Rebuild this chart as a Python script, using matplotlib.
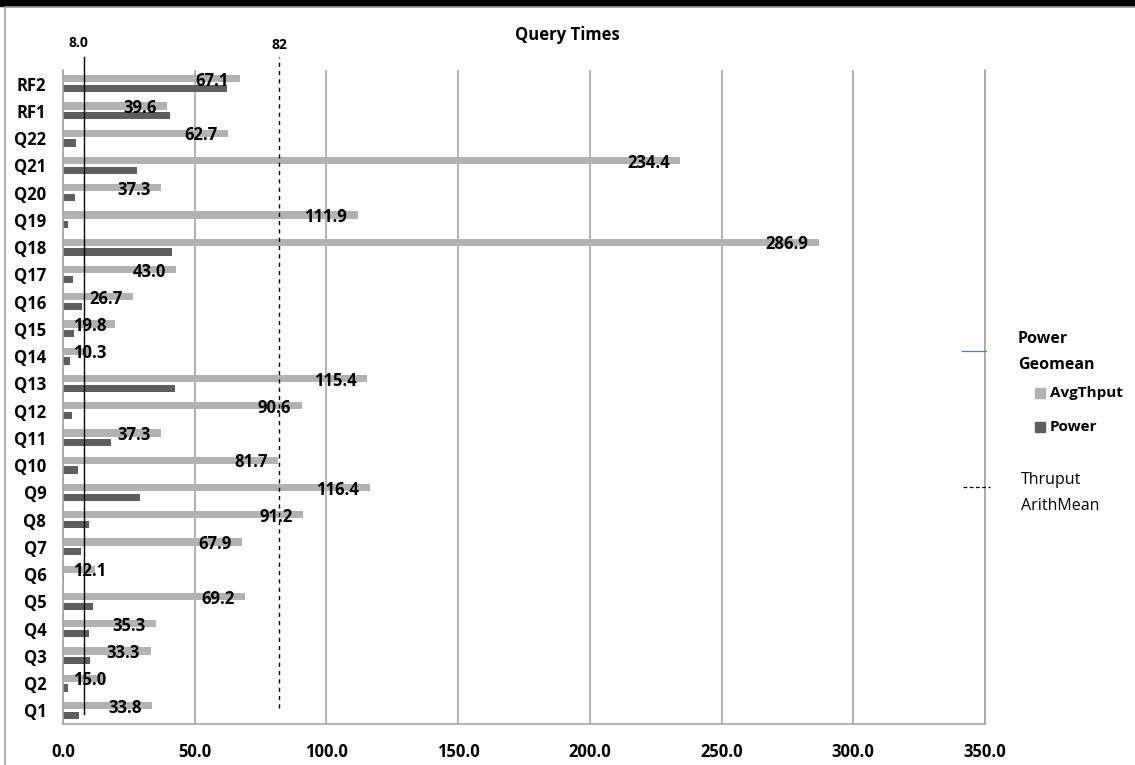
import numpy as np
import matplotlib.pyplot as plt
from matplotlib.patches import Rectangle
from matplotlib.lines import Line2D

plt.rcParams['font.family'] = ['Open Sans', 'DejaVu Sans']

# query labels, bottom to top
queries = ['Q1', 'Q2', 'Q3', 'Q4', 'Q5', 'Q6', 'Q7', 'Q8', 'Q9', 'Q10', 'Q11', 'Q12',
           'Q13', 'Q14', 'Q15', 'Q16', 'Q17', 'Q18', 'Q19', 'Q20', 'Q21', 'Q22', 'RF1', 'RF2']
avg_thput = [33.8, 15.0, 33.3, 35.3, 69.2, 12.1, 67.9, 91.2, 116.4, 81.7, 37.3, 90.6,
             115.4, 10.3, 19.8, 26.7, 43.0, 286.9, 111.9, 37.3, 234.4, 62.7, 39.6, 67.1]
power = [6.0, 1.8, 10.2, 9.8, 11.4, 0.5, 6.9, 9.8, 29.2, 5.6, 18.1, 3.5,
         42.5, 2.7, 4.3, 7.3, 3.8, 41.3, 1.9, 4.7, 28.0, 5.1, 40.8, 62.1]
power_geomean = 8.0
thruput_arithmean = 82
xticks = [0, 50, 100, 150, 200, 250, 300, 350]

light = '#b2b2b2'
dark = '#5e5e5e'
grid_c = '#a6a6a6'

W, H = 1135, 765
fig = plt.figure(figsize=(W / 100, H / 100), dpi=100)

def fx(px):
    return px / W

def fy(py):
    return 1 - py / H

ax = fig.add_axes([fx(63), fy(724), fx(985) - fx(63), fy(70) - fy(724)])

y = np.arange(len(queries))
h = 0.27
ax.barh(y + 0.18, avg_thput, height=h, color=light, zorder=2)
ax.barh(y - 0.18, power, height=h, color=dark, zorder=2)

# value labels near the end of the light bars
for yi, v in zip(y, avg_thput):
    ax.text(max(v - 4, 16.5), yi + 0.1, f'{v:.1f}', ha='right', va='center',
            fontsize=12, fontweight='bold', color='black', zorder=4)

ax.set_xlim(0, 350)
ax.set_ylim(-0.5, 23.5)
ax.set_xticks(xticks)
ax.set_xticklabels([f'{t:.1f}' for t in xticks], fontsize=12, fontweight='bold')
ax.set_yticks(y)
ax.set_yticklabels(queries, fontsize=12, fontweight='bold')
ax.tick_params(axis='both', length=0)
ax.tick_params(axis='x', pad=14)
ax.tick_params(axis='y', pad=12)
ax.grid(axis='x', color=grid_c, linewidth=1.2, zorder=1)
ax.spines['top'].set_visible(False)
for side in ['left', 'bottom', 'right']:
    ax.spines[side].set_color(grid_c)
    ax.spines[side].set_linewidth(1.2)

# geomean and arithmetic mean lines
ax.plot([power_geomean, power_geomean], [-0.15, 23.98], color='black', lw=1.0,
        clip_on=False, zorder=3)
ax.plot([thruput_arithmean, thruput_arithmean], [0.1, 23.98], color='black', lw=1.0,
        ls=(0, (3, 3)), clip_on=False, zorder=3)
ax.text(power_geomean - 2, 24.5, f'{power_geomean:.1f}', ha='center', va='center',
        fontsize=10, fontweight='bold')
ax.text(thruput_arithmean, 24.4, f'{thruput_arithmean}', ha='center', va='center',
        fontsize=10, fontweight='bold')

fig.text(0.5, fy(35), 'Query Times', ha='center', va='center', fontsize=12,
         fontweight='bold')

# legend drawn by hand
fig.add_artist(Line2D([fx(962), fx(986)], [fy(351), fy(351)], color='#4f81bd', lw=0.9))
fig.text(fx(1018), fy(352), 'Power\nGeomean', ha='left', va='center', fontsize=11.5,
         fontweight='bold', linespacing=1.9)
fig.add_artist(Rectangle((fx(1035), fy(398)), fx(10), 10 / H, color=light))
fig.text(fx(1050), fy(393), 'AvgThput', ha='left', va='center', fontsize=11,
         fontweight='bold')
fig.add_artist(Rectangle((fx(1035), fy(432)), fx(10), 10 / H, color=dark))
fig.text(fx(1050), fy(427), 'Power', ha='left', va='center', fontsize=11,
         fontweight='bold')
fig.add_artist(Line2D([fx(963), fx(990)], [fy(487), fy(487)], color='black', lw=0.9,
                      ls=(0, (3, 2))))
fig.text(fx(1021), fy(493), 'Thruput\nArithMean', ha='left', va='center', fontsize=11.5,
         linespacing=1.9)

# frame of the chart area
fig.add_artist(Rectangle((0, fy(6)), 1, 6 / H, color='black'))
fig.add_artist(Rectangle((fx(4.5), -0.1), 1.2, fy(7.5) + 0.1, fill=False,
                         edgecolor='#a0a0a0', lw=1.2))

fig.savefig('out.png', dpi=100)
